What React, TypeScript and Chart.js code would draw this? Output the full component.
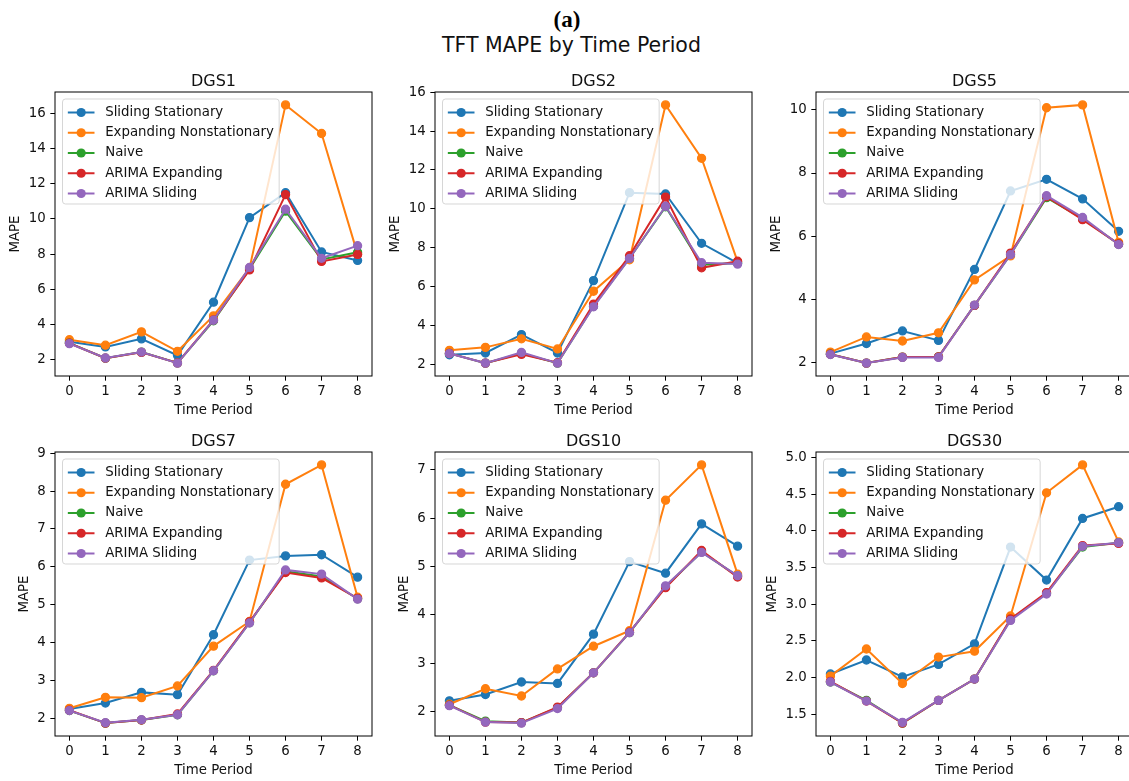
import React, { useEffect, useRef } from "react";
import { Chart, registerables } from "chart.js";

Chart.register(...registerables);

// ---------------- DATA ----------------
const PERIODS = [0, 1, 2, 3, 4, 5, 6, 7, 8];
const SERIES_NAMES = ["Sliding Stationary", "Expanding Nonstationary", "Naive", "ARIMA Expanding", "ARIMA Sliding"];
const SERIES_COLORS = ["#1f77b4", "#ff7f0e", "#2ca02c", "#d62728", "#9467bd"];

const DGS1_SLIDING = [3.0, 2.71, 3.17, 2.23, 5.26, 10.08, 11.5, 8.12, 7.64];
const DGS1_EXPANDING = [3.12, 2.81, 3.57, 2.46, 4.48, 7.2, 16.5, 14.87, 8.0];
const DGS1_NAIVE = [2.93, 2.07, 2.42, 1.8, 4.2, 7.15, 10.45, 7.7, 8.1];
const DGS1_ARIMA_EXP = [2.92, 2.07, 2.4, 1.8, 4.25, 7.1, 11.39, 7.58, 7.98];
const DGS1_ARIMA_SLI = [2.9, 2.08, 2.42, 1.79, 4.23, 7.24, 10.56, 7.76, 8.48];

const DGS2_SLIDING = [2.48, 2.57, 3.52, 2.57, 6.3, 10.83, 10.76, 8.22, 7.2];
const DGS2_EXPANDING = [2.71, 2.86, 3.3, 2.78, 5.75, 7.37, 15.35, 12.6, 7.28];
const DGS2_NAIVE = [2.55, 2.05, 2.55, 2.05, 4.98, 7.45, 10.1, 7.12, 7.2];
const DGS2_ARIMA_EXP = [2.55, 2.05, 2.5, 2.07, 5.09, 7.58, 10.6, 6.96, 7.3];
const DGS2_ARIMA_SLI = [2.54, 2.05, 2.6, 2.05, 4.95, 7.44, 10.13, 7.22, 7.15];

const DGS5_SLIDING = [2.27, 2.59, 2.99, 2.69, 4.94, 7.43, 7.8, 7.18, 6.15];
const DGS5_EXPANDING = [2.32, 2.8, 2.67, 2.93, 4.61, 5.37, 10.07, 10.16, 5.8];
const DGS5_NAIVE = [2.25, 1.97, 2.16, 2.17, 3.8, 5.42, 7.22, 6.55, 5.74];
const DGS5_ARIMA_EXP = [2.25, 1.97, 2.16, 2.17, 3.8, 5.46, 7.25, 6.52, 5.75];
const DGS5_ARIMA_SLI = [2.24, 1.97, 2.15, 2.15, 3.81, 5.41, 7.28, 6.59, 5.73];

const DGS7_SLIDING = [2.25, 2.41, 2.69, 2.63, 4.21, 6.18, 6.29, 6.32, 5.73];
const DGS7_EXPANDING = [2.27, 2.56, 2.55, 2.86, 3.91, 4.56, 8.18, 8.69, 5.2];
const DGS7_NAIVE = [2.21, 1.88, 1.96, 2.1, 3.26, 4.53, 5.88, 5.75, 5.16];
const DGS7_ARIMA_EXP = [2.22, 1.88, 1.96, 2.12, 3.27, 4.55, 5.85, 5.71, 5.17];
const DGS7_ARIMA_SLI = [2.21, 1.89, 1.97, 2.1, 3.26, 4.52, 5.92, 5.81, 5.15];

const DGS10_SLIDING = [2.22, 2.35, 2.61, 2.58, 3.6, 5.1, 4.86, 5.88, 5.42];
const DGS10_EXPANDING = [2.15, 2.47, 2.32, 2.88, 3.35, 3.67, 6.37, 7.1, 4.84];
const DGS10_NAIVE = [2.13, 1.8, 1.77, 2.08, 2.8, 3.63, 4.58, 5.3, 4.8];
const DGS10_ARIMA_EXP = [2.13, 1.78, 1.77, 2.09, 2.8, 3.64, 4.56, 5.33, 4.78];
const DGS10_ARIMA_SLI = [2.12, 1.78, 1.76, 2.06, 2.8, 3.63, 4.6, 5.29, 4.81];

const DGS30_SLIDING = [2.05, 2.24, 2.01, 2.18, 2.46, 3.78, 3.33, 4.17, 4.33];
const DGS30_EXPANDING = [2.02, 2.39, 1.92, 2.28, 2.36, 2.84, 4.52, 4.9, 3.85];
const DGS30_NAIVE = [1.94, 1.69, 1.38, 1.69, 1.98, 2.79, 3.15, 3.78, 3.84];
const DGS30_ARIMA_EXP = [1.95, 1.68, 1.38, 1.69, 1.98, 2.8, 3.16, 3.8, 3.83];
const DGS30_ARIMA_SLI = [1.94, 1.68, 1.39, 1.69, 1.98, 2.78, 3.14, 3.79, 3.84];

const Y_TICKS_DGS1 = [2, 4, 6, 8, 10, 12, 14, 16];
const Y_TICKS_DGS2 = [2, 4, 6, 8, 10, 12, 14, 16];
const Y_TICKS_DGS5 = [2, 4, 6, 8, 10];
const Y_TICKS_DGS7 = [2, 3, 4, 5, 6, 7, 8, 9];
const Y_TICKS_DGS10 = [2, 3, 4, 5, 6, 7];
const Y_TICKS_DGS30 = [1.5, 2.0, 2.5, 3.0, 3.5, 4.0, 4.5, 5.0];

const PANEL_TITLES = ["DGS1", "DGS2", "DGS5", "DGS7", "DGS10", "DGS30"];
const MAIN_TITLE = "TFT MAPE by Time Period";
const FIG_LABEL = "(a)";
const X_LABEL = "Time Period";
const Y_LABEL = "MAPE";

type Panel = {
  title: string;
  series: number[][];
  yTicks: number[];
  decimals: number;
};

const PANELS: Panel[] = [
  { title: PANEL_TITLES[0], series: [DGS1_SLIDING, DGS1_EXPANDING, DGS1_NAIVE, DGS1_ARIMA_EXP, DGS1_ARIMA_SLI], yTicks: Y_TICKS_DGS1, decimals: 0 },
  { title: PANEL_TITLES[1], series: [DGS2_SLIDING, DGS2_EXPANDING, DGS2_NAIVE, DGS2_ARIMA_EXP, DGS2_ARIMA_SLI], yTicks: Y_TICKS_DGS2, decimals: 0 },
  { title: PANEL_TITLES[2], series: [DGS5_SLIDING, DGS5_EXPANDING, DGS5_NAIVE, DGS5_ARIMA_EXP, DGS5_ARIMA_SLI], yTicks: Y_TICKS_DGS5, decimals: 0 },
  { title: PANEL_TITLES[3], series: [DGS7_SLIDING, DGS7_EXPANDING, DGS7_NAIVE, DGS7_ARIMA_EXP, DGS7_ARIMA_SLI], yTicks: Y_TICKS_DGS7, decimals: 0 },
  { title: PANEL_TITLES[4], series: [DGS10_SLIDING, DGS10_EXPANDING, DGS10_NAIVE, DGS10_ARIMA_EXP, DGS10_ARIMA_SLI], yTicks: Y_TICKS_DGS10, decimals: 0 },
  { title: PANEL_TITLES[5], series: [DGS30_SLIDING, DGS30_EXPANDING, DGS30_NAIVE, DGS30_ARIMA_EXP, DGS30_ARIMA_SLI], yTicks: Y_TICKS_DGS30, decimals: 1 },
];

// ---------------- LAYOUT ----------------
const COL_LEFT = [55, 435, 816];
const ROW_TOP = [92, 452];
const AREA_W = 317;
const AREA_H = 284;
const PAD_L = 55;
const PAD_T = 36;
const PAD_R = 12;
const PAD_B = 45;
const CANVAS_W = PAD_L + AREA_W + PAD_R;
const CANVAS_H = PAD_T + AREA_H + PAD_B;

const FONT = '"DejaVu Sans", sans-serif';
const FS = 13.33;
const TEXT_COLOR = "#111";
const TICK_LEN = 4.67;
const TICK_PAD = 4.67;

function PanelChart({ panel, left, top }: { panel: Panel; left: number; top: number }) {
  const ref = useRef<HTMLCanvasElement | null>(null);

  useEffect(() => {
    if (!ref.current) return;
    const all = panel.series.flat();
    const dmin = Math.min(...all);
    const dmax = Math.max(...all);
    const margin = (dmax - dmin) * 0.05;
    const xMargin = (PERIODS[PERIODS.length - 1] - PERIODS[0]) * 0.05;

    const datasets = panel.series.map((vals, i) => ({
      label: SERIES_NAMES[i],
      data: PERIODS.map((x, j) => ({ x, y: vals[j] })),
      borderColor: SERIES_COLORS[i],
      backgroundColor: SERIES_COLORS[i],
      pointBackgroundColor: SERIES_COLORS[i],
      pointBorderColor: SERIES_COLORS[i],
      pointRadius: 4,
      pointBorderWidth: 1.3,
      borderWidth: 2,
      tension: 0,
      fill: false,
      order: SERIES_NAMES.length - i,
    }));

    const overlay = {
      id: "mplOverlay",
      afterDraw(chart: any) {
        const { ctx, chartArea: a } = chart;
        ctx.save();
        // frame
        ctx.strokeStyle = "#000";
        ctx.lineWidth = 1;
        ctx.strokeRect(a.left, a.top, a.right - a.left, a.bottom - a.top);

        // legend
        ctx.font = `${FS}px ${FONT}`;
        const maxW = Math.max(...SERIES_NAMES.map((n) => ctx.measureText(n).width));
        const bx = a.left + 7.5;
        const by = a.top + 7;
        const bw = 5.33 + 26.67 + 10.67 + maxW + 5.33;
        const rowH = 20.25;
        const bh = rowH * (SERIES_NAMES.length - 1) + 24;
        const r = 3;
        ctx.beginPath();
        ctx.moveTo(bx + r, by);
        ctx.lineTo(bx + bw - r, by);
        ctx.arcTo(bx + bw, by, bx + bw, by + r, r);
        ctx.lineTo(bx + bw, by + bh - r);
        ctx.arcTo(bx + bw, by + bh, bx + bw - r, by + bh, r);
        ctx.lineTo(bx + r, by + bh);
        ctx.arcTo(bx, by + bh, bx, by + bh - r, r);
        ctx.lineTo(bx, by + r);
        ctx.arcTo(bx, by, bx + r, by, r);
        ctx.closePath();
        ctx.fillStyle = "rgba(255,255,255,0.8)";
        ctx.fill();
        ctx.strokeStyle = "rgba(204,204,204,0.8)";
        ctx.lineWidth = 1;
        ctx.stroke();
        SERIES_NAMES.forEach((name, i) => {
          const cy = by + 13.5 + i * rowH;
          const hx0 = bx + 5.33;
          const hx1 = hx0 + 26.67;
          ctx.strokeStyle = SERIES_COLORS[i];
          ctx.lineWidth = 2;
          ctx.beginPath();
          ctx.moveTo(hx0, cy);
          ctx.lineTo(hx1, cy);
          ctx.stroke();
          ctx.fillStyle = SERIES_COLORS[i];
          ctx.beginPath();
          ctx.arc((hx0 + hx1) / 2, cy, 4.6, 0, Math.PI * 2);
          ctx.fill();
          ctx.fillStyle = TEXT_COLOR;
          ctx.textAlign = "left";
          ctx.textBaseline = "middle";
          ctx.fillText(name, hx1 + 10.67, cy);
        });

        // subplot title
        ctx.fillStyle = TEXT_COLOR;
        ctx.font = `16px ${FONT}`;
        ctx.textAlign = "center";
        ctx.textBaseline = "alphabetic";
        ctx.fillText(panel.title, (a.left + a.right) / 2, a.top - 6);

        // x label
        ctx.font = `${FS}px ${FONT}`;
        ctx.fillText(X_LABEL, (a.left + a.right) / 2, a.bottom + 37.5);

        // y label
        const yScale = chart.scales.y;
        const tickW = Math.max(...yScale.ticks.map((t: any) => ctx.measureText(String(t.label)).width));
        const lx = a.left - TICK_LEN - TICK_PAD - tickW - 12.7;
        ctx.translate(lx, (a.top + a.bottom) / 2);
        ctx.rotate(-Math.PI / 2);
        ctx.textAlign = "center";
        ctx.textBaseline = "middle";
        ctx.fillText(Y_LABEL, 0, 0);
        ctx.restore();
      },
    };

    const gridOpts = {
      display: true,
      drawOnChartArea: false,
      drawTicks: true,
      tickLength: TICK_LEN,
      tickColor: "#000",
      tickWidth: 1,
      color: "#000",
    };

    const chart = new Chart(ref.current, {
      type: "line",
      data: { datasets: datasets as any },
      options: {
        responsive: false,
        animation: false,
        events: [],
        layout: { padding: { left: 0, top: PAD_T, right: PAD_R, bottom: 0 } },
        plugins: {
          legend: { display: false },
          title: { display: false },
          tooltip: { enabled: false },
        },
        scales: {
          x: {
            type: "linear",
            min: PERIODS[0] - xMargin,
            max: PERIODS[PERIODS.length - 1] + xMargin,
            afterBuildTicks: (s: any) => {
              s.ticks = PERIODS.map((v) => ({ value: v }));
            },
            afterFit: (s: any) => {
              s.height = PAD_B;
            },
            grid: gridOpts as any,
            border: { display: false },
            ticks: {
              autoSkip: false,
              maxRotation: 0,
              minRotation: 0,
              padding: 3,
              color: TEXT_COLOR,
              font: { family: FONT, size: FS },
              callback: (v: any) => String(v),
            },
          },
          y: {
            type: "linear",
            min: dmin - margin,
            max: dmax + margin,
            afterBuildTicks: (s: any) => {
              s.ticks = panel.yTicks.map((v) => ({ value: v }));
            },
            afterFit: (s: any) => {
              s.width = PAD_L;
            },
            grid: gridOpts as any,
            border: { display: false },
            ticks: {
              autoSkip: false,
              padding: TICK_PAD,
              color: TEXT_COLOR,
              font: { family: FONT, size: FS },
              callback: (v: any) => Number(v).toFixed(panel.decimals),
            },
          },
        },
      },
      plugins: [overlay as any],
    });
    return () => chart.destroy();
  }, [panel]);

  return (
    <canvas
      ref={ref}
      width={CANVAS_W}
      height={CANVAS_H}
      style={{ position: "absolute", left, top, width: CANVAS_W, height: CANVAS_H }}
    />
  );
}

export default function App() {
  return (
    <div
      style={{
        position: "absolute",
        left: 0,
        top: 0,
        width: 1129,
        height: 781,
        overflow: "hidden",
        background: "#fff",
      }}
    >
      <div
        style={{
          position: "absolute",
          left: 567 - 100,
          width: 200,
          top: 7.7,
          textAlign: "center",
          fontFamily: '"Liberation Serif", serif',
          fontWeight: "bold",
          fontSize: 23,
          lineHeight: "23px",
          color: "#000",
          whiteSpace: "nowrap",
        }}
      >
        {FIG_LABEL}
      </div>
      <div
        style={{
          position: "absolute",
          left: 571.5 - 300,
          width: 600,
          top: 34.3,
          textAlign: "center",
          fontFamily: FONT,
          fontSize: 20.5,
          lineHeight: "23.86px",
          color: TEXT_COLOR,
          whiteSpace: "nowrap",
        }}
      >
        {MAIN_TITLE}
      </div>
      {PANELS.map((p, i) => (
        <PanelChart
          key={p.title}
          panel={p}
          left={COL_LEFT[i % 3] - PAD_L}
          top={ROW_TOP[Math.floor(i / 3)] - PAD_T}
        />
      ))}
    </div>
  );
}
